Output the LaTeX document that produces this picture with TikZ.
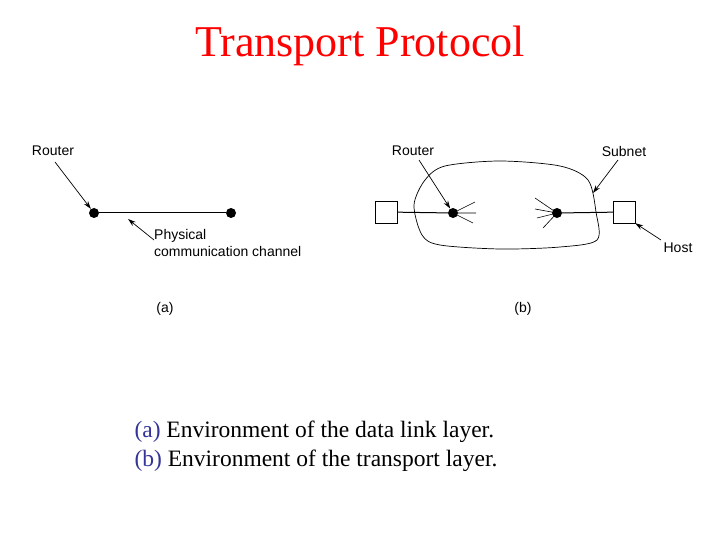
\documentclass[tikz,border=0pt]{standalone}
\usepackage{fontspec}
\setmainfont{Liberation Serif}
\newfontfamily\lab{Liberation Sans}
\usetikzlibrary{arrows.meta}
\begin{document}
\begin{tikzpicture}[x=1pt,y=-1pt,
  lbl/.style={font=\lab\fontsize{14}{17}\selectfont,inner sep=0pt},
  dot/.style={circle,fill=black,inner sep=0pt,minimum size=10pt},
  host/.style={draw,fill=white,minimum width=22pt,minimum height=22pt,inner sep=0pt},
  arr/.style={-{Stealth[length=8pt,width=5pt]},line width=0.7pt},
  ln/.style={line width=1pt},
  sp/.style={line width=0.6pt}]
\useasboundingbox (0,0) rectangle (720,540);
\node[red,font=\fontsize{44}{50}\selectfont] (title) at (360,46) {Transport Protocol};
% (a)
\node[dot] (a1) at (94,213) {};
\node[dot] (a2) at (231,213) {};
\draw[ln] (a1) -- (a2);
\node[lbl] (ra) at (53,151) {Router};
\draw[arr] (55,162) -- (a1);
\node[lbl,align=left,anchor=north west] (pc) at (154,229) {Physical\\communication channel};
\coordinate (pcs) at (154,240);
\draw[arr] (pcs) -- (128,219);
\node[lbl] (la) at (165,309) {(a)};
% (b)
\draw[line width=0.7pt] plot[smooth cycle,tension=0.5] coordinates {
 (445,166) (500,161) (560,166) (588,180) (596,212) (597,240) (560,247) (500,249) (440,245)
 (422,235) (414,205) (425,180)};
\node[host] (h1) at (386,212) {};
\node[host] (h2) at (624,212) {};
\node[dot] (b1) at (453,213) {};
\node[dot] (b2) at (557,213) {};
\draw[ln] (h1) -- (b1);
\draw[ln] (b2) -- (h2);
\draw[sp] (b1.center) -- (475,202) (b1.center) -- (476,213) (b1.center) -- (473,223);
\draw[sp] (b2.center) -- (535,198) (b2.center) -- (535,209) (b2.center) -- (537,218) (b2.center) -- (543,228);
\node[lbl] (rb) at (413,151) {Router};
\draw[arr] (419,160) -- (b1);
\node[lbl] (sn) at (624,151) {Subnet};
\coordinate (snt) at (593,193);
\draw[arr] (618,160) -- (snt);
\node[lbl] (ho) at (678,248) {Host};
\draw[arr] (661,240) -- (h2.south east);
\node[lbl] (lb) at (523,309) {(b)};
% caption
\node[anchor=west,align=left,font=\fontsize{23.5}{29}\selectfont] (cap) at (131,446)
 {\textcolor[rgb]{0.2,0.2,0.6}{(a)} Environment of the data link layer.\\
  \textcolor[rgb]{0.2,0.2,0.6}{(b)} Environment of the transport layer.};
\end{tikzpicture}
\end{document}
